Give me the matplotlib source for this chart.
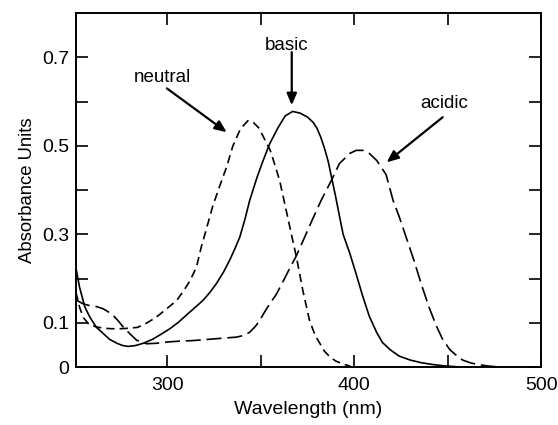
import matplotlib.pyplot as plt

plt.rcParams['font.family'] = ['Liberation Sans', 'DejaVu Sans']

# spectra (wavelength in nm, absorbance)
basic_wl = [251, 253, 255.8, 258.5, 262, 265.4, 269, 273, 276, 279, 283, 287, 292, 296,
            301.3, 306, 310.2, 314.5, 319, 322.5, 326.2, 330, 333.3, 336, 338.7, 341.5,
            344, 348, 351, 354.7, 359, 363, 367, 371, 375, 378, 380, 382, 384, 386, 388,
            390, 392, 394, 397.5, 401, 404.5, 408, 412, 415, 419, 424, 430, 436, 442,
            448, 455]
basic_abs = [0.225, 0.18, 0.136, 0.113, 0.09, 0.077, 0.063, 0.054, 0.049, 0.047, 0.049,
             0.054, 0.063, 0.073, 0.087, 0.102, 0.118, 0.134, 0.151, 0.168, 0.189, 0.215,
             0.242, 0.267, 0.294, 0.335, 0.377, 0.43, 0.465, 0.505, 0.54, 0.568, 0.578,
             0.574, 0.565, 0.553, 0.54, 0.52, 0.495, 0.465, 0.425, 0.385, 0.342, 0.3,
             0.258, 0.21, 0.16, 0.115, 0.078, 0.056, 0.04, 0.025, 0.016, 0.01, 0.006,
             0.003, 0.001]

neutral_wl = [251, 253, 255, 258, 262, 266, 270, 275, 279, 284, 289, 294, 299, 305, 309,
              312, 315.5, 318, 321, 324.3, 328, 331.6, 335, 339, 343, 346, 349, 352, 355,
              358, 360, 363.5, 367, 369, 372.4, 376, 379, 381.5, 384, 387, 390, 394, 398]
neutral_abs = [0.17, 0.135, 0.112, 0.097, 0.091, 0.088, 0.087, 0.087, 0.088, 0.09, 0.1,
               0.113, 0.13, 0.151, 0.175, 0.195, 0.226, 0.27, 0.315, 0.365, 0.41, 0.452,
               0.5, 0.538, 0.557, 0.553, 0.54, 0.515, 0.49, 0.45, 0.422, 0.355, 0.287,
               0.249, 0.174, 0.106, 0.072, 0.054, 0.036, 0.023, 0.014, 0.007, 0.002]

acidic_wl = [251, 255, 258.5, 262, 265.6, 268, 271, 274, 276.3, 280, 283.5, 288.8, 294,
             300, 307, 313, 319, 325, 331, 337, 341, 344, 347, 349.4, 352, 355, 358.3,
             362, 365, 369, 373, 377.7, 382, 387.7, 392, 397.5, 401, 404.5, 408, 412,
             417, 420.7, 424, 428, 432, 436, 440, 444, 447, 451, 455, 458, 462, 466,
             471, 476]
acidic_abs = [0.152, 0.143, 0.139, 0.137, 0.132, 0.126, 0.117, 0.103, 0.091, 0.075, 0.061,
              0.053, 0.054, 0.057, 0.059, 0.06, 0.062, 0.064, 0.066, 0.068, 0.072, 0.079,
              0.092, 0.106, 0.125, 0.145, 0.165, 0.195, 0.22, 0.252, 0.29, 0.335, 0.375,
              0.422, 0.46, 0.483, 0.49, 0.49, 0.483, 0.467, 0.435, 0.377, 0.34, 0.29,
              0.24, 0.185, 0.135, 0.092, 0.065, 0.04, 0.025, 0.016, 0.01, 0.006, 0.003,
              0.001]

fig = plt.figure(figsize=(5.58, 4.25), dpi=100)
ax = fig.add_axes([0.136, 0.136, 0.834, 0.833])

ax.plot(basic_wl, basic_abs, color='black', lw=1.2)
ax.plot(neutral_wl, neutral_abs, color='black', lw=1.2, dashes=(5, 3))
ax.plot(acidic_wl, acidic_abs, color='black', lw=1.2, dashes=(9, 3.5))

ax.set_xlim(251, 500)
ax.set_ylim(0, 0.8)

ax.set_xticks([300, 400, 500])
ax.set_xticks([350, 450], minor=True)
ax.set_yticks([0, 0.1, 0.3, 0.5, 0.7])
ax.set_yticklabels(['0', '0.1', '0.3', '0.5', '0.7'])
ax.set_yticks([0.2, 0.4, 0.6], minor=True)
ax.tick_params(which='both', direction='in', length=8.5, width=1.2,
               top=True, right=True, labelsize=14)
ax.tick_params(axis='x', which='both', pad=7)
ax.tick_params(axis='y', which='both', pad=5)
for s in ax.spines.values():
    s.set_linewidth(1.4)

ax.set_xlabel('Wavelength (nm)', fontsize=14, labelpad=5)
ax.set_ylabel('Absorbance Units', fontsize=13.3, labelpad=4)

arrow = dict(arrowstyle='-|>,head_length=0.7,head_width=0.3', lw=1.6, color='black',
             shrinkA=0, shrinkB=0)
ax.text(297.5, 0.655, 'neutral', fontsize=13.5, ha='center', va='center')
ax.annotate('', xy=(331.7, 0.531), xytext=(299.7, 0.630), arrowprops=arrow)
ax.text(364, 0.728, 'basic', fontsize=13.5, ha='center', va='center')
ax.annotate('', xy=(366.5, 0.592), xytext=(366.5, 0.712), arrowprops=arrow)
ax.text(448.3, 0.597, 'acidic', fontsize=13.5, ha='center', va='center')
ax.annotate('', xy=(417.3, 0.463), xytext=(447.3, 0.565), arrowprops=arrow)

fig.savefig('out.png', dpi=100)
